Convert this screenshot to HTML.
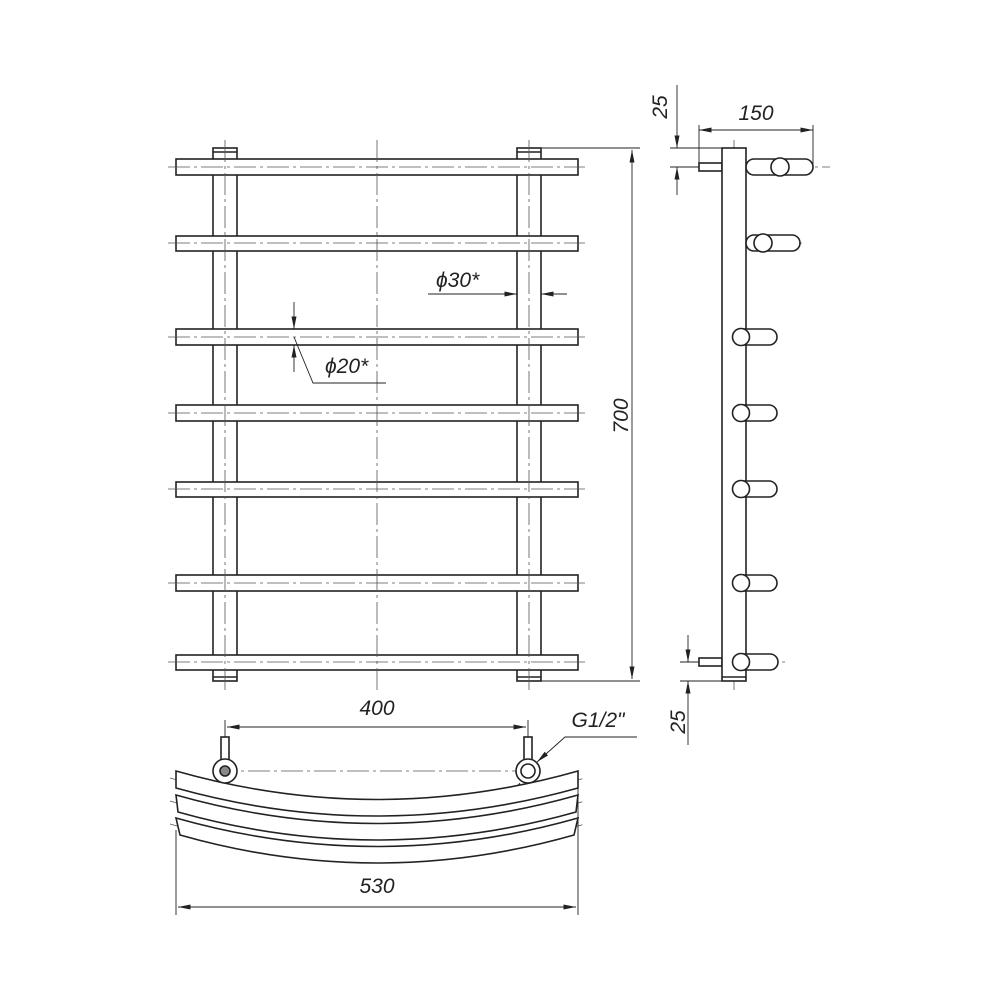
<!DOCTYPE html>
<html><head><style>html,body{margin:0;background:#fff}svg{display:block}text{font-family:"Liberation Sans",sans-serif;font-style:italic;font-size:21px;fill:#222}</style></head><body>
<svg width="1000" height="1000" viewBox="0 0 1000 1000" xmlns="http://www.w3.org/2000/svg">
<defs><marker id="a" viewBox="0 0 10 4" refX="10" refY="2" markerWidth="14" markerHeight="5" orient="auto-start-reverse" markerUnits="userSpaceOnUse"><path d="M0,0L10,2L0,4z" fill="#222"/></marker></defs>
<g fill="none" stroke="#222" stroke-width="1.6">
<rect x="213" y="148" width="24" height="533" fill="#fff"/>
<rect x="517" y="148" width="24" height="533" fill="#fff"/>
<line x1="213" y1="152" x2="237" y2="152"/><line x1="517" y1="152" x2="541" y2="152"/>
<line x1="213" y1="677" x2="237" y2="677"/><line x1="517" y1="677" x2="541" y2="677"/>
<rect x="176" y="159" width="402" height="16" fill="#fff"/>
<rect x="176" y="236" width="402" height="15" fill="#fff"/>
<rect x="176" y="329" width="402" height="16" fill="#fff"/>
<rect x="176" y="405" width="402" height="16" fill="#fff"/>
<rect x="176" y="482" width="402" height="15" fill="#fff"/>
<rect x="176" y="575" width="402" height="16" fill="#fff"/>
<rect x="176" y="655" width="402" height="15" fill="#fff"/>
</g>
<g stroke="#555" stroke-width="0.8" stroke-dasharray="22,4,3,4" fill="none">
<line x1="377" y1="140" x2="377" y2="690"/>
<line x1="225" y1="140" x2="225" y2="690"/><line x1="529" y1="140" x2="529" y2="690"/>
<line x1="168" y1="167" x2="585" y2="167"/><line x1="168" y1="243" x2="585" y2="243"/>
<line x1="168" y1="337" x2="585" y2="337"/><line x1="168" y1="413" x2="585" y2="413"/>
<line x1="168" y1="489" x2="585" y2="489"/><line x1="168" y1="583" x2="585" y2="583"/>
<line x1="168" y1="662" x2="585" y2="662"/>
<line x1="734" y1="140" x2="734" y2="690"/>
<line x1="690" y1="167" x2="830" y2="167"/><line x1="740" y1="243" x2="805" y2="243"/>
<line x1="690" y1="662" x2="785" y2="662"/>
<line x1="215" y1="771" x2="545" y2="771"/>
<path d="M170,778 Q377,838 585,778"/><path d="M170,801 Q377,861 585,801"/><path d="M170,824 Q377,884 585,824"/>
</g>
<g stroke="#222" stroke-width="0.9" fill="none">
<line x1="541" y1="148" x2="640" y2="148"/><line x1="541" y1="681" x2="640" y2="681"/>
<line x1="632" y1="150" x2="632" y2="679" marker-start="url(#a)" marker-end="url(#a)"/>
<line x1="428" y1="294" x2="517" y2="294" marker-end="url(#a)"/>
<line x1="541" y1="294" x2="567" y2="294"/><line x1="566" y1="294" x2="541" y2="294" marker-end="url(#a)"/>
<line x1="294" y1="302" x2="294" y2="329" marker-end="url(#a)"/>
<line x1="294" y1="372" x2="294" y2="345" marker-end="url(#a)"/>
<polyline points="294,337 313,383 386,383"/>
<line x1="699" y1="130" x2="813" y2="130" marker-start="url(#a)" marker-end="url(#a)"/>
<line x1="699" y1="125" x2="699" y2="163"/><line x1="813" y1="125" x2="813" y2="167"/>
<line x1="670" y1="148" x2="722" y2="148"/><line x1="670" y1="167" x2="699" y2="167"/>
<line x1="677" y1="85" x2="677" y2="148" marker-end="url(#a)"/>
<line x1="677" y1="195" x2="677" y2="167" marker-end="url(#a)"/>
<line x1="680" y1="662" x2="699" y2="662"/><line x1="680" y1="681" x2="722" y2="681"/>
<line x1="688" y1="635" x2="688" y2="662" marker-end="url(#a)"/>
<line x1="688" y1="745" x2="688" y2="681" marker-end="url(#a)"/>
<line x1="225" y1="720" x2="225" y2="740"/><line x1="528" y1="720" x2="528" y2="740"/>
<line x1="227" y1="727" x2="526" y2="727" marker-start="url(#a)" marker-end="url(#a)"/>
<line x1="176" y1="830" x2="176" y2="915"/><line x1="578" y1="775" x2="578" y2="915"/>
<line x1="178" y1="907" x2="576" y2="907" marker-start="url(#a)" marker-end="url(#a)"/>
<polyline points="637,737 565,737 537,762" marker-end="url(#a)"/>
<line x1="508" y1="797" x2="520" y2="783" marker-end="url(#a)"/>
</g>
<g fill="#fff" stroke="#222" stroke-width="1.6">
<rect x="699" y="163" width="23" height="8"/>
<rect x="699" y="658" width="23" height="8"/>
<rect x="722" y="148" width="24" height="533"/>
<line x1="722" y1="677" x2="746" y2="677"/>
<rect x="746" y="159" width="67" height="16" rx="8"/><circle cx="780" cy="167" r="9"/>
<rect x="746" y="235" width="54" height="16" rx="8"/><circle cx="763" cy="243" r="9"/>
<rect x="733" y="329" width="44" height="16" rx="8"/><circle cx="741" cy="337" r="8.5"/>
<rect x="733" y="405" width="44" height="16" rx="8"/><circle cx="741" cy="413" r="8.5"/>
<rect x="733" y="481" width="44" height="16" rx="8"/><circle cx="741" cy="489" r="8.5"/>
<rect x="733" y="575" width="44" height="16" rx="8"/><circle cx="741" cy="583" r="8.5"/>
<rect x="733" y="654" width="45" height="16" rx="8"/><circle cx="741" cy="662" r="8.5"/>
<path d="M176,818 Q377,875 578,818 L574,835 Q377,891 180,835Z"/>
<path d="M176,795 Q377,852 578,795 L576,812 Q377,868 178,812Z"/>
<path d="M176,771 Q377,828 578,771 L578,788 Q377,844 176,788Z"/>
<rect x="221" y="737" width="8" height="24"/><rect x="524" y="737" width="8" height="24"/>
<circle cx="225" cy="771" r="12"/><circle cx="225" cy="771" r="5" fill="#888"/>
<circle cx="528" cy="771" r="12"/><circle cx="528" cy="771" r="7"/>
</g>
<text x="436" y="287">ϕ30*</text>
<text x="325" y="373">ϕ20*</text>
<text transform="translate(628,416) rotate(-90)" text-anchor="middle">700</text>
<text x="756" y="120" text-anchor="middle">150</text>
<text transform="translate(667,107) rotate(-90)" text-anchor="middle">25</text>
<text transform="translate(685,722) rotate(-90)" text-anchor="middle">25</text>
<text x="377" y="715" text-anchor="middle">400</text>
<text x="598" y="727" text-anchor="middle">G1/2"</text>
<text x="377" y="893" text-anchor="middle">530</text>
</svg>
</body></html>
